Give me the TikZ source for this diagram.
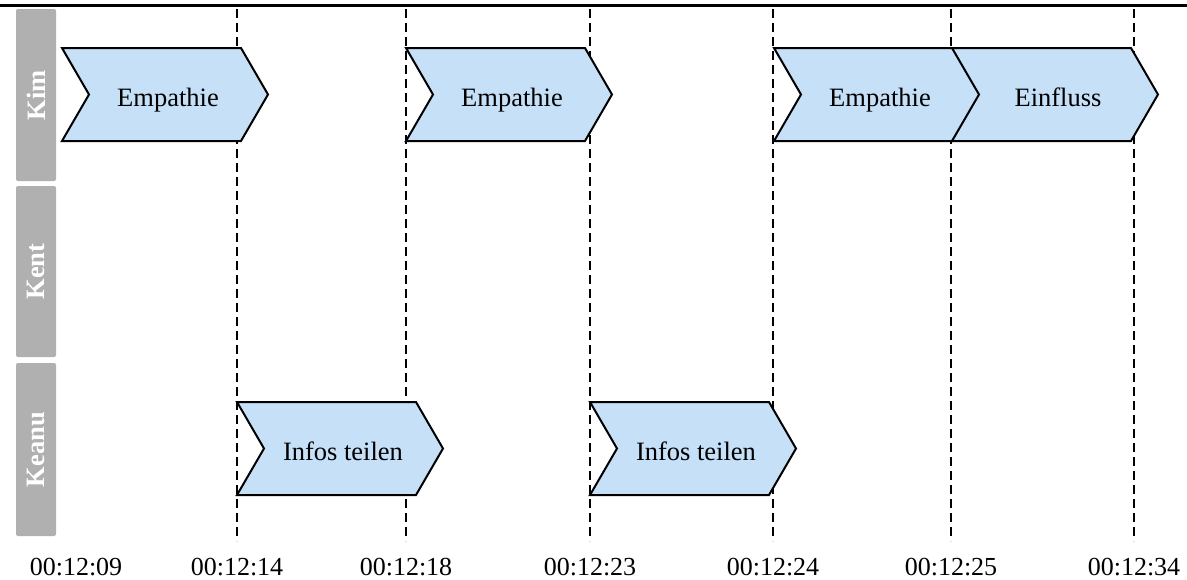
\documentclass[tikz,border=0pt]{standalone}
\usepackage{fontspec}
\setmainfont{Liberation Serif}
\definecolor{chevfill}{RGB}{198,224,248}
\definecolor{lanegray}{RGB}{176,176,176}
\newcommand\mkchev[4]{%
  \draw[chev] (#1,#2) -- ++(179,0) -- ++(27,46.5) -- ++(-27,46.5) -- ++(-179,0) -- ++(27,-46.5) -- cycle;
  \node[chevtext] (#3) at (#1+106,#2+58) {#4};
}
\begin{document}
\begin{tikzpicture}[x=1pt,y=-1pt,
  chev/.style={draw=black,fill=chevfill,line width=2pt,line join=miter},
  chevtext/.style={font=\fontsize{26.5}{30}\selectfont,inner sep=0pt,anchor=base},
  lane/.style={fill=lanegray,rounded corners=2pt},
  lanetext/.style={font=\fontsize{26.5}{30}\selectfont\bfseries,text=white,rotate=90,inner sep=0pt},
  tick/.style={draw=black,line width=2.4pt,dash pattern=on 9pt off 5pt},
  timelabel/.style={font=\fontsize{26}{30}\selectfont,anchor=base,inner sep=0pt}]
\useasboundingbox (0,0) rectangle (1187,579);
% top rule
\coordinate (ruleL) at (0,5.5);
\coordinate (ruleR) at (1187,5.5);
\draw[line width=3.2pt] (ruleL) -- (ruleR);
% lanes
\fill[lane] (16,9) rectangle (56,181);
\fill[lane] (16,186) rectangle (56,357);
\fill[lane] (16,363) rectangle (56,536);
\node[lanetext] (kim) at (36,95) {Kim};
\node[lanetext] (kent) at (36,271.5) {Kent};
\node[lanetext] (keanu) at (36,449.5) {Keanu};
% dashed time lines
\foreach \x/\n in {237/a,406/b,590/c,773/d,951/e,1134/f}{
  \coordinate (t\n) at (\x,9);
  \coordinate (b\n) at (\x,541);
  \draw[tick] (t\n) -- (b\n);
}
% chevrons
\mkchev{62}{48}{e1}{Empathie}
\mkchev{406}{48}{e2}{Empathie}
\mkchev{774}{48}{e3}{Empathie}
\mkchev{952}{48}{inf}{Einfluss}
\mkchev{237}{402}{i1}{Infos teilen}
\mkchev{590}{402}{i2}{Infos teilen}
% time labels
\node[timelabel] (l0) at (76,575) {00:12:09};
\node[timelabel] (l1) at (237,575) {00:12:14};
\node[timelabel] (l2) at (406,575) {00:12:18};
\node[timelabel] (l3) at (590,575) {00:12:23};
\node[timelabel] (l4) at (773,575) {00:12:24};
\node[timelabel] (l5) at (951,575) {00:12:25};
\node[timelabel] (l6) at (1134,575) {00:12:34};
\end{tikzpicture}
\end{document}
